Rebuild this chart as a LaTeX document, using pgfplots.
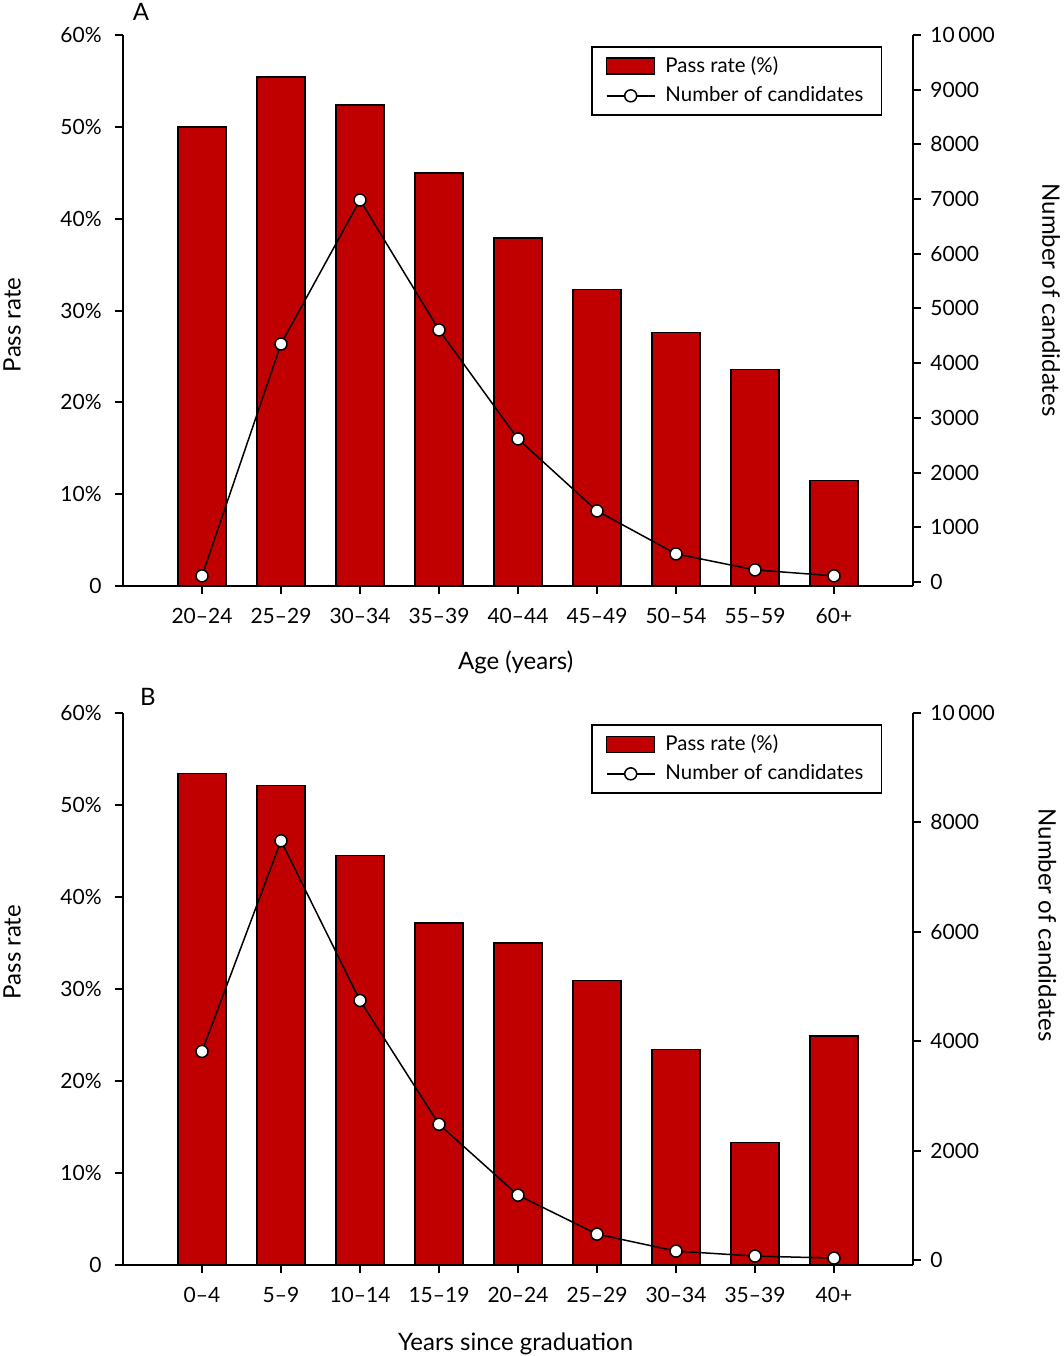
\documentclass[border=0pt]{standalone}
\usepackage{fontspec}
\setmainfont{Lato}
\usepackage{pgfplots}
\pgfplotsset{compat=1.18}
\definecolor{barred}{HTML}{C00000}
\pgfplotsset{
  common/.style={
    scale only axis, width=395pt, anchor=south west,
    xmin=-1, xmax=9,
    axis line style={line width=1pt},
    tick style={line width=1pt, black},
    major tick length=4pt, tick align=outside,
    scaled y ticks=false,
    /pgf/number format/assume math mode=true,
    tick label style={font=\fontsize{10.5}{12}\selectfont},
    label style={font=\fontsize{12}{14}\selectfont},
    clip=false,
  },
  leftax/.style={common, ymin=0, ymax=60,
    axis x line*=bottom, axis y line*=left,
    ytick={0,10,...,60},
    yticklabels={0,10\%,20\%,30\%,40\%,50\%,60\%},
    yticklabel style={xshift=-3pt},
    xticklabel style={yshift=-3.5pt},
    xtick={0,...,8},
  },
  rightax/.style={common, ymax=10000,
    axis y line*=right, axis x line=none,
    yticklabel style={xshift=1pt},
    legend cell align=left,
    legend style={draw=black, line width=0.75pt, font=\fontsize{10.2}{12}\selectfont,
      anchor=north east, at={(axis description cs:0.961,0.980)},
      inner xsep=7pt, inner ysep=3pt, row sep=1.5pt,
      /tikz/every odd column/.append style={column sep=3pt}},
  },
  barleg/.style={legend image code/.code={\draw[fill=barred, draw=black, line width=0.75pt] (0pt,-4pt) rectangle (24pt,4pt);}},
  lineleg/.style={legend image code/.code={\draw[black, line width=0.75pt] (0pt,0pt) -- (24pt,0pt);
      \draw[fill=white, draw=black, line width=0.75pt] (12pt,0pt) circle (3pt);}},
}
\begin{document}
\fontsize{10.5}{12}\selectfont
\begin{tikzpicture}
\path[use as bounding box] (0,0) rectangle (532pt,678pt);
% ---------- Panel A ----------
\begin{axis}[leftax, height=275.5pt, at={(61.5pt,385pt)},
  xticklabels={20--24,25--29,30--34,35--39,40--44,45--49,50--54,55--59,60+},
  xlabel={Age (years)},
  xlabel style={at={(axis description cs:0.497,-0.138)}, anchor=center},
  ylabel={Pass rate},
  ylabel style={at={(axis description cs:-0.1405,0.474)}, anchor=center, rotate=0},
]
\addplot[ybar, bar width=0.61, fill=barred, draw=black, line width=0.75pt] coordinates {
 (0,50.0) (1,55.4) (2,52.4) (3,45.0) (4,37.9) (5,32.3) (6,27.6) (7,23.6) (8,11.5)};
\node[font=\fontsize{12}{14}\selectfont] at (axis description cs:0.0228,1.042) {A};
\end{axis}
\begin{axis}[rightax, height=275.5pt, at={(61.5pt,385pt)}, ymin=-75,
  ytick={0,1000,...,10000},
  yticklabels={0,1000,2000,3000,4000,5000,6000,7000,8000,9000,10\,000},
  ylabel={Number of candidates},
  ylabel style={at={(axis description cs:1.1747,0.519)}, anchor=center, rotate=180},
]
\addlegendimage{barleg}
\addlegendentry{Pass rate (\%)}
\addplot[black, line width=0.75pt, mark=*, mark size=3pt,
  mark options={fill=white, draw=black, line width=0.75pt}, lineleg] coordinates {
 (0,110) (1,4350) (2,6983) (3,4607) (4,2614) (5,1298) (6,512) (7,219) (8,110)};
\addlegendentry{Number of candidates}
\end{axis}
% ---------- Panel B ----------
\begin{axis}[leftax, height=276pt, at={(61.5pt,45.5pt)},
  xticklabels={0--4,5--9,10--14,15--19,20--24,25--29,30--34,35--39,40+},
  xlabel={Years since graduation},
  xlabel style={at={(axis description cs:0.497,-0.143)}, anchor=center},
  ylabel={Pass rate},
  ylabel style={at={(axis description cs:-0.1405,0.567)}, anchor=center, rotate=0},
]
\addplot[ybar, bar width=0.61, fill=barred, draw=black, line width=0.75pt] coordinates {
 (0,53.4) (1,52.1) (2,44.5) (3,37.2) (4,35.0) (5,30.9) (6,23.4) (7,13.3) (8,24.9)};
\node[font=\fontsize{12}{14}\selectfont] at (axis description cs:0.0316,1.029) {B};
\end{axis}
\begin{axis}[rightax, height=276pt, at={(61.5pt,45.5pt)}, ymin=-90,
  ytick={0,2000,...,10000},
  yticklabels={0,2000,4000,6000,8000,10\,000},
  ylabel={Number of candidates},
  ylabel style={at={(axis description cs:1.17,0.616)}, anchor=center, rotate=180},
]
\addlegendimage{barleg}
\addlegendentry{Pass rate (\%)}
\addplot[black, line width=0.75pt, mark=*, mark size=3pt,
  mark options={fill=white, draw=black, line width=0.75pt}, lineleg] coordinates {
 (0,3814) (1,7664) (2,4745) (3,2482) (4,1186) (5,474) (6,164) (7,73) (8,36)};
\addlegendentry{Number of candidates}
\end{axis}
\end{tikzpicture}
\end{document}
